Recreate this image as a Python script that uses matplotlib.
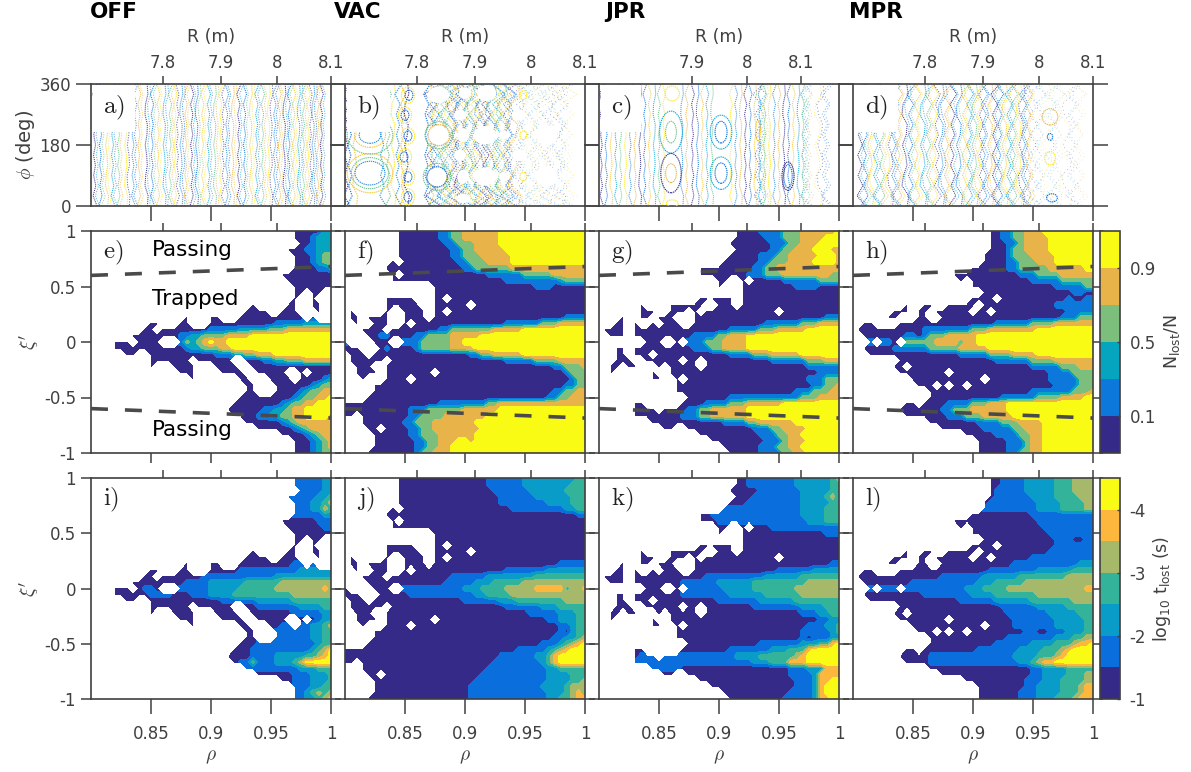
"""Orbit maps: Poincare plots, lost fraction and loss time for four coil settings."""
import numpy as np
import matplotlib
matplotlib.use("Agg")
import matplotlib.pyplot as plt
from matplotlib.patches import Ellipse

W, H = 1191, 772
GREY = "#404040"

COLUMN_TITLES = ["OFF", "VAC", "JPR", "MPR"]
PANEL_LABELS = ["a)", "b)", "c)", "d)", "e)", "f)", "g)", "h)", "i)", "j)", "k)", "l)"]

RHO = np.linspace(0.8, 1.0, 41)
XI = np.linspace(1.0, -1.0, 37)
RHO_TICKS = [0.85, 0.9, 0.95, 1.0]
RHO_LABELS = ["0.85", "0.9", "0.95", "1"]
XI_TICKS = [1, 0.5, 0, -0.5, -1]
XI_LABELS = ["1", "0.5", "0", "-0.5", "-1"]
PHI_TICKS = [0, 180, 360]

# R axis is not linear in rho, tick places read per column (JPR has other ones)
R_TICK_RHO = [
    [0.86, 0.9083, 0.955, 1.0],
    [0.86, 0.9083, 0.955, 1.0],
    [0.8775, 0.9233, 0.9683],
    [0.86, 0.9083, 0.955, 1.0],
]
R_TICK_LABELS = [
    ["7.8", "7.9", "8", "8.1"],
    ["7.8", "7.9", "8", "8.1"],
    ["7.9", "8", "8.1"],
    ["7.8", "7.9", "8", "8.1"],
]

SEP_RHO = [0.8, 1.0]
SEP_UPPER = [0.6, 0.68]
SEP_LOWER = [-0.6, -0.685]
REGION_NAMES = ["Passing", "Trapped", "Passing"]
REGION_XI = [0.83, 0.39, -0.79]

LOSS_COLORS = ["#352a87", "#0d78dc", "#05a5bf", "#7cbf7c", "#e8b44a", "#f9fb15"]
TIME_COLORS = ["#352a87", "#0a6fdd", "#0a9cc8", "#33b399", "#a6b96a", "#fdb73c", "#f9fb15"]
POINT_COLORS = ["#352a87", "#0f6fdc", "#f5c63a", "#12a5d8", "#6cc58a", "#fde725", "#2f8fe0", "#e8b44a"]

LOSS_TICK_PLACE = [0.5, 2.5, 4.5]
LOSS_TICK_LABELS = ["0.1", "0.5", "0.9"]
TIME_TICK_PLACE = [-0.5, 1.5, 3.5, 5.5]
TIME_TICK_LABELS = ["-1", "-2", "-3", "-4"]

# Map rows from xi=1 down to xi=-1. Each row is runs "level*count", '.' = no data,
# and is right aligned on rho=1. Levels are colour bands.
LOSS_E = [
    "0*5 2*2", "0*3 1 2*3", "0*2 1 2*3", "0*3 1*2 2*3", "0*3 1 2 3*2", "0*3 1 2 3*2",
    "0*4 1*2 2", "0*9", "0*8", "0*7",
    "0 .*5 0*2 . 0*2 .*2", "0 .*6 0 .*2 0 . 0*2", "0 .*5 0*2 .*2 0*2 .*2",
    "0*4 .*2 0*3 . 0 . 0 .*2", "0 .*3 0*2 .*3 0*11 . 0 .*3",
    "0*2 .*3 0*2 .*3 0*11 1*5 2*5", "0*2 . 0*8 1*5 2*5 3*3 4*8",
    "0*8 1*2 2*2 3*4 4*4 5*14", "0*3 . 0*4 .*3 1 3 2 3 4 5 4*2 5*18",
    "0*12 1 2*2 3*3 4*2 5*17", "0*2 .*2 0*11 1*3 2*2 3*2 4*3 5*10",
    "0*7 . 0*6 .*2 0*3 1*2 2*2 3*3 4*5", "0 .*3 0*4 .*3 0*4 .*2 0*14",
    "0*3 .*4 0*4 .*2 0*5 .*2 0 . 0*4", "0 .*7 0*2 .*3 0*4 . 0*4 1 2",
    "0*2 .*3 0*6 1 2 3*2", "0*2 .*3 0*4 1 2 3*2 4*2", "0*9 1 2 3*2 4*2 5",
    "0*8 1 2 3*2 4*2 5*3", "0*6 1*2 2*2 3 4*2 5*5", "0*4 1*2 2*2 3*2 4*2 5*4 4",
    "0*6 1 2 3 4*6", "0*6 1 2 3 4*4", "0*4 1 2 3 4*2", "0*3 1 2 3 4", "0*3 1 2 3 4",
    "0*3 1 2 3*2",
]
LOSS_F = [
    "0*7 1*2 3*2 4*6 5*15", "0*7 1*2 3*2 4*6 5*15", "0*8 1*2 3*3 4*4 5*15",
    "0*9 1*2 3*2 4*5 5*14", "0*9 1*2 3*3 4*5 5*13", "0 . 0*9 1*2 3*3 4*4 5*13",
    "0*13 1*2 3*6 4*13", "0*2 .*2 0 . 0*14 1*6 3*5 4*6", "0*19 1*9 2 3*4",
    "0*17 1*3 0*6", "0*26", "0*5 .*3 0*2 . 0*23", "0*6 .*2 0*6 . 0*19",
    "0 .*5 0 .*2 0*3 0 . 0*2 . 0*23", ". 0*2 . 0*3 0 .*2 0*4 . 0*22 1*4",
    "0 . 0 .*2 0*3 .*2 0 . 0*15 1*6 3*3 4*5", ".*4 0*4 . 0*8 1*2 3*7 4*5 5*11",
    "1 .*3 0*2 1*2 0 0*3 1*2 3*4 4*5 5*18", "1 .*4 0*3 .*2 1*3 3*3 3*2 4*2 5*21",
    "0*3 .*3 0 1 0*4 1 3*3 3*2 4*4 5*19", ". 0*3 . 0*16 1*2 3*2 4*5 5*11",
    ". 0*6 . 0*19 1*5 3*4 4*5", ".*2 0*3 .*2 0*28 1*2 3*3 4",
    ".*2 0*4 . 0*8 . 0*21 1 3*3", ".*3 0 .*3 0*4 . 0*26 1 3*2", ".*5 0*32 1*2 3*2",
    ".*5 0*30 1*2 3*2 4*2", ".*4 0*30 1*2 3*2 4*3", "0*16 1*8 3*2 4*15",
    "0*11 1*3 3*6 4*6 5*15", "0*2 . 0*8 1*2 3*4 4*7 5*17", ".*3 0*7 1*2 3*3 4*7 5*19",
    ".*4 0*2 . 0*4 1*2 3*2 4*8 5*18", ".*5 0*6 1*2 3*3 4*5 4 5*19",
    ".*5 0*7 1*2 3*2 4*3 5*2 4 5*19", ".*5 0*7 1*2 3*2 4*2 5*23", ".*4 0*8 1 3*2 4*3 5*23",
]
LOSS_G = [
    "0*4 1*4 3*3 4*6 5", "0*5 1*3 3*3 4*4 5*3", "0*7 1*3 3*2 4*3 5*4",
    "0 . 0*6 1*2 3*2 4*3 5*3 4*2", "0*5 1*3 3*2 4*5 5*3 4", "0*6 1*2 3*3 4*4 5*4 4",
    "0*9 1*2 3*2 4*11", "0*8 1*3 3*3 4*8 3*2", "0*2 .*2 0 . 0*5 1*6 3*4",
    "0 .*3 0*9 1*4 0*4", "0*17", "0*6 . 0*17", "0 .*4 0*6 .*2 0*3 . 0*6 0*11",
    "0*3 .*2 0*3 . 0 . 0*12 . 0*10", "0 .*2 0*2 . 0*3 .*3 0*22 1*3",
    "0*2 . 0 .*2 0 . 0*3 .*2 0*12 1*6 3*3 4*4", ". 0*4 . 0*16 1*5 3*3 4*5 5*6",
    ".*2 0*3 . 0*10 1*4 3*2 4*3 5*16", ".*8 0*3 .*2 0 . 1*3 3 3*2 4*4 5*16",
    ".*3 0*2 . 0*10 1*3 3*2 4*4 5*16", ".*3 0*2 . 0*3 . 0*12 1*4 3*3 4*5 5*7",
    ".*3 0*3 .*2 0*2 0*4 . 0*2 . 0*11 1*6 3*3 4*3", ".*2 0*2 . 0*2 .*3 0 . 0*5 . 0*17 1*6",
    ".*2 0 .*6 0 .*2 0*25 1*4", ".*9 0*3 . 0 . 0*20 1*3 3*3", ".*13 0*23 1*2 3*2 4",
    ".*13 0*20 1*3 3*3 4*2", ".*15 0*7 1*12 3*3 4*4", ".*7 0*2 .*6 0*4 1*4 3*3 4*6 5*10",
    ".*6 0*4 . 0*4 1*2 3*2 4*6 5*16", ".*6 0*8 1*3 3*2 4*6 5*16",
    ".*9 0*12 1*4 3*2 4*6 5*8", ".*11 0*2 .*2 0*11 1*3 3*2 4*4 5*6",
    ".*17 0*10 1*3 3*2 4*2 5*7", ".*19 0*9 1*3 3 4*3 5*6", ".*21 0*6 1*3 3*2 4*2 5*7",
    ".*22 0*5 1*4 3*2 4*2 5*6",
]
LOSS_H = [
    ".*23 0*2 1*2 3*2 4*3 5*9", ".*23 0*2 1*2 3*2 4*4 5*8", ".*23 0*3 1*2 3 4*4 5*8",
    ".*23 0*3 1 3*2 4*4 5*8", ".*22 0*4 1 3*3 4*4 5*7", ".*22 0*4 1*2 3*3 4*3 5*7",
    ".*20 0*6 1*2 3*5 4*6 5*2", ".*17 0*11 1*3 3*4 4*6", ".*18 0 . 0*10 1*5 3*6",
    ".*20 0*14 1*5 3*2", ".*22 0*15 1*2 0*2", ".*20 0*4 . 0*11 1 0*2 1*2",
    ".*9 0 .*2 0*2 .*2 0*5 . 0*12 1*7", ".*4 0 .*2 0*3 . 0*2 . 0*6 . 0*2 . 0*12 1*5",
    ".*6 0*2 .*3 0*2 .*2 0*20 1*3 3*3", ".*2 0*2 .*4 0*16 1*6 3*4 4*7",
    ". 0*11 1*8 3*3 4*8 5*10", ".*2 0*7 1*2 0 1 3*3 4*5 5*20",
    ".*3 1 . 1*2 0 . 3 3*2 3*2 4*4 3 4*2 5*20", ".*2 0*5 1*6 3*5 4*5 5*18",
    ".*3 0*15 1*5 3*4 4*4 5*10", ".*8 0*16 1*6 3*4 4*7",
    ". 0 .*2 0*2 . 0*2 . 0*20 1*5 3*3 4*3", ".*8 0*8 . 0*16 1*3 1 3*4",
    ".*10 0*12 . 0*10 1*5 3*3", ".*11 0*3 . 0 . 0*2 . 0*14 1*4 3*3",
    ".*13 0*17 1*7 3*3 4", ".*13 0*12 1*6 3*4 4*4 5*2", ".*9 0*2 . 0*4 1*4 3*3 4*3 5*15",
    ".*8 0*7 1*2 3*3 4*6 5*15", ".*9 0*7 1*3 3*3 4*5 5*14", ".*13 0*8 1*4 3*3 4*4 5*9",
    ".*15 0*7 1*5 3*2 4*3 5*9", ".*19 0*5 1*4 3*2 4*2 5*9", ".*21 0*5 1*3 3 4*2 5*9",
    ".*21 0*5 1*3 3 4*2 5*9", ".*21 0*5 1*2 3*2 4*2 5*9",
]
TIME_I = [
    "1*6 2*2", "1*6 2*2", "1*6 2*2", "1*5 2*2 3", "1*4 2*2 3 4", "1*4 2*2 4 3", "1*5 2*2",
    "1*3", "1*2", "0", "0", "0", "0", "0", "1*7", "1*10 2*6", "1*12 2*10",
    "1*4 2*6 3*6 4*9", "1*2 0*2 1*4 1*3 2*5 3*6 4*8 5 4", "1*4 0*3 1*3 2*4 3*10 4*7",
    "1*6 2*6 3*7", "1*7 2*4 3*2", "1*5 2*2", "1 2*2", "1*5 2*2 3 4", "1*6 2*2 3*2",
    "1*9 2*2 3*2", "1*10 2 3*2", "1*10 2 3 4 6", "1*4 2*5 3*2 4 5 6",
    "1*2 3 1*3 2*3 3 4 6*5", "1*9 2*3 3 3*2", "1*3 2*3 3", "1*3 2*3 3", "1*3 2*2 3*2",
    "1*2 2 3 4 3 4", "1*2 2*2 3 4 5",
]
TIME_J = [
    "1*6 2*7 2*2 3*2", "1*6 2*8 3*3", "1*6 2*6 3*4", "1*6 2*6 3*3", "1*8 2*4 3*3",
    "1*9 2*2 3*2", "1*2", "0", "0", "0", "0", "0", "0", "0", "1*5", "1*7 2*7",
    "1*6 2*8 3*9", "1*5 2*3 3*5 4*11", "1*10 2*3 3*4 4*4 4 5*5 3 4 4 5",
    "1*11 2*2 3*4 4*13", "1*6 2*3 3*8 4*4", "1*6 2*3 3*5", "1*5 2*3 3*2", "1*2 2*3 3*2",
    "1*2 2 3*2", "1 0 2 3*2", "1*2 2*2 3 4", "1*3 2 3 4 5 6", "1*5 2 3 4 5 6*3",
    "1*6 2*2 3 5 6*5", "1*8 2 3 5 6*5", "1*10 2*2 3*5", "1*11 2*4 3*3", "1*12 2*4 3*2 4",
    "1*12 2*4 3 4*3", "1*13 2*3 3 4 5 3", "1*13 2*2 3*2 4 5*2",
]
TIME_K = [
    "1*8 2*6 3 4", "1*8 2*6 3*2", "1*7 2*5 3*2", "1*8 2*4 3 4 2", "1*9 2*5 3*2",
    "1*13 2*4 3*3", "1*15 2*4 3*3", "1*15 2*3 3*3", "1*12", "1*3", "0", "0", "0", "0",
    "1*2", "1*6 2*5", "1*10 2*6 3*7", "1*6 2*6 3*9 4*6", "1*7 2*5 3*7 4*8",
    "1*8 2*6 3*6 4*7", "1*7 2*6 3*8", "1*8 2*4 3*3", "1*3 2*2 3*2", "1*2 2*2",
    "1*3 2*2 3", "1*5 2 3", "1 0 1*3 2*2", "1*7 2*3 3*2 5 6", "1*7 2*3 3*3 5 6*5",
    "1*16 2*4 3*6 4 5 6*6", "1*20 2*3 3*3 5*3 6*6", "1*7 0*18 1*3 2*3 5*3",
    "1*4 2 5*4", "1*3 2 5*2 6*2", "1*3 2 5 6*3", "1*4 2 5 6*3", "1*5 2 5*2 6*2",
]
TIME_L = [
    "1*4 2*5 3*3 4*4", "1*4 2*5 3*3 4*4", "1*5 2*5 3*3 4*4", "1*6 2*4 3*4 4*3",
    "1*8 2*4 3*4 4*2", "1*10 2*4 3*4 4*2", "1*11", "1*10", "1*9", "1*8", "1*3 0*2 1*2",
    "1*7", "1*8", "1*11", "1*11 2*3", "1*8 2*6 3*4", "1*7 2*6 3*8 4*5",
    "1*11 2*3 3*5 4*12", "1*17 2*3 3*4 4*11 4*2 5*2", "1*8 2*4 3*7 4*10",
    "1*6 2*6 3*7 4*4", "1*6 2*5 3*5", "1*7 2*5 3*3", "1*7 2*5 3*2", "1*7 2*5 3*2",
    "1*2 0*2 1*3 2*3 3*2", "1*8 2*3 3*2 4*2", "1*6 2*4 3*3 4 5*2 6",
    "1*7 2*4 3*3 4 5 6*4", "1*14 2*4 3*3 4 5 6*5", "1*15 2*2 3 4 5*2 6*7",
    "1*2 2*4 3*5", "1*2 2*4 3*3 4*2", "1*3 2*3 3*4 4*2", "1*2 2*4 3*3 4 5*2",
    "1*3 2*4 3*3 4 5*2", "1*3 2*3 3*3 4 5*3",
]

# Poincare plots: surface places in rho, sideways wiggle read per 30 deg of phi
PHI_NODES = [0, 30, 60, 90, 120, 150, 180, 210, 240, 270, 300, 330, 360]
WIGGLE_1 = [0.0020, -0.0012, 0.0010, -0.0008, 0.0007, -0.0009, 0.0008, -0.0007, 0.0009, -0.0008, 0.0012, -0.0015, 0.0020]
WIGGLE_2 = [-0.0015, 0.0012, -0.0006, 0.0010, -0.0008, 0.0005, -0.0010, 0.0008, -0.0006, 0.0009, -0.0010, 0.0016, -0.0012]
WIGGLE_3 = [0.0010, 0.0016, -0.0010, -0.0004, 0.0009, 0.0004, -0.0008, 0.0006, 0.0010, -0.0010, -0.0006, 0.0014, 0.0008]
PAIR_SHIFT = 0.0021

A_SURFACES = [0.803, 0.808, 0.813, 0.818, 0.823, 0.829, 0.835, 0.84, 0.846, 0.851, 0.856, 0.861,
              0.866, 0.87, 0.875, 0.879, 0.884, 0.888, 0.893, 0.898, 0.903, 0.908, 0.913, 0.918,
              0.923, 0.928, 0.933, 0.938, 0.943, 0.948, 0.953, 0.957, 0.961, 0.965, 0.969, 0.973,
              0.977, 0.981, 0.985, 0.989, 0.992]
B_SURFACES = [0.801, 0.804, 0.808, 0.831, 0.836, 0.84, 0.844, 0.848, 0.851, 0.868, 0.872]
B_CHAOS_DENSE = [0.872, 0.875, 0.878, 0.881, 0.884, 0.887, 0.89, 0.892, 0.895, 0.898, 0.9, 0.903,
                 0.906, 0.909, 0.912, 0.915, 0.918, 0.921, 0.924, 0.927, 0.93, 0.933, 0.936, 0.94]
B_CHAOS_SPARSE = [0.944, 0.948, 0.952, 0.956, 0.96, 0.964, 0.968, 0.972, 0.976, 0.98, 0.985]
C_SURFACES = [0.802, 0.806, 0.81, 0.814, 0.818, 0.822, 0.826, 0.83, 0.834, 0.838, 0.842, 0.846,
              0.85, 0.854, 0.869, 0.873, 0.878, 0.882, 0.886, 0.89, 0.894, 0.91, 0.914, 0.918,
              0.922, 0.926, 0.93, 0.934, 0.938, 0.942, 0.946, 0.95, 0.954, 0.958, 0.962, 0.966, 0.97]
C_CHAOS = [0.932, 0.935, 0.938, 0.971, 0.973, 0.982, 0.988]
D_SURFACES = [0.806, 0.81, 0.814, 0.819, 0.824, 0.829, 0.834, 0.838, 0.843, 0.848, 0.853, 0.858,
              0.863, 0.868, 0.873, 0.878, 0.883, 0.888, 0.893, 0.897, 0.901, 0.905, 0.909, 0.914,
              0.918, 0.922, 0.926, 0.93, 0.934, 0.938, 0.942, 0.946]
D_CHAOS = [0.95, 0.955, 0.96, 0.965, 0.97, 0.976, 0.982, 0.988]

# islands: rho, phi, half width, half height, colour index in POINT_COLORS
B_ISLANDS = [
    (0.8533, 327, 0.0033, 15, 1), (0.85, 268, 0.0033, 15, 1), (0.8525, 207, 0.0033, 15, 1),
    (0.8492, 145, 0.0033, 15, 1), (0.8525, 86, 0.0033, 15, 1), (0.8525, 27, 0.0033, 15, 1),
    (0.8525, 327, 0.0055, 24, 5), (0.85, 268, 0.0055, 24, 5), (0.8525, 207, 0.0055, 24, 5),
    (0.85, 145, 0.0055, 24, 5), (0.8525, 86, 0.0055, 24, 5), (0.8525, 27, 0.0055, 24, 5),
    (0.8783, 209, 0.0092, 31, 7), (0.8783, 209, 0.0115, 40, 4), (0.8767, 86, 0.0085, 30, 1),
    (0.8767, 86, 0.0115, 40, 4), (0.9486, 327, 0.0028, 13, 5), (0.9486, 209, 0.0028, 13, 5),
    (0.9486, 87, 0.0028, 13, 5), (0.8208, 97, 0.0125, 35, 6), (0.8208, 97, 0.0155, 46, 4),
    (0.8208, 97, 0.019, 58, 2), (0.8208, 209, 0.009, 24, 6), (0.8208, 209, 0.013, 36, 2),
    (0.8208, 209, 0.019, 56, 4),
]
B_HOLES = [
    (0.8778, 328, 0.009, 24), (0.9, 333, 0.005, 17), (0.918, 333, 0.008, 24), (0.8958, 268, 0.005, 16),
    (0.8986, 209, 0.005, 20), (0.9167, 209, 0.009, 27), (0.8958, 150, 0.005, 16), (0.8986, 87, 0.005, 20),
    (0.9167, 87, 0.009, 27), (0.8986, 22, 0.006, 14), (0.8778, 209, 0.0085, 29), (0.8767, 86, 0.0075, 28),
    (0.932, 209, 0.004, 14), (0.932, 87, 0.004, 14), (0.968, 209, 0.009, 30), (0.968, 87, 0.009, 30),
    (0.945, 268, 0.006, 16), (0.945, 150, 0.006, 16),
]
C_ISLANDS = [
    (0.86, 218, 0.0045, 32, 4), (0.86, 218, 0.0095, 62, 3), (0.86, 97, 0.0045, 28, 7),
    (0.86, 97, 0.0085, 58, 0), (0.861, 332, 0.006, 22, 5), (0.861, 8, 0.005, 10, 5),
    (0.9017, 218, 0.005, 32, 1), (0.9017, 218, 0.009, 50, 3), (0.9017, 97, 0.005, 30, 1),
    (0.9017, 97, 0.009, 48, 3), (0.9575, 88, 0.0035, 34, 1), (0.9575, 88, 0.005, 42, 0),
    (0.9325, 222, 0.002, 30, 2),
]
D_ISLANDS = [
    (0.9642, 141, 0.0045, 20, 5), (0.9642, 263, 0.0065, 24, 7), (0.9642, 204, 0.0022, 10, 1),
    (0.9658, 24, 0.0045, 12, 1),
]


def decode_map(rows, pad):
    grid = np.full((len(rows), len(RHO)), np.nan)
    for i, row in enumerate(rows):
        chars = ""
        for run in row.split():
            level, _, count = run.partition("*")
            chars += level * int(count or 1)
        chars = chars.rjust(len(RHO), pad)[-len(RHO):]
        grid[i] = [np.nan if c == "." else int(c) for c in chars]
    return grid


def px_axes(fig, x0, y0, x1, y1):
    return fig.add_axes([x0 / W, 1 - y1 / H, (x1 - x0) / W, (y1 - y0) / H])


def style_axes(ax, col, yticks, ylabels, ylen, xlen):
    ax.set_xlim(0.8, 1.0)
    ax.set_xticks(RHO_TICKS)
    ax.set_xticklabels([])
    ax.set_yticks(yticks)
    ax.set_yticklabels(ylabels if col == 0 else [])
    ax.tick_params(axis="y", left=True, right=True, length=ylen, width=1.1, color=GREY,
                   labelsize=12, labelcolor=GREY)
    ax.tick_params(axis="x", length=xlen, width=1.1, color=GREY, labelsize=12,
                   labelcolor=GREY, pad=8)
    for spine in ax.spines.values():
        spine.set_linewidth(1.2)
        spine.set_color(GREY)
    top = ax.secondary_xaxis("top")
    top.set_xticks(R_TICK_RHO[col])
    top.set_xticklabels([])
    top.tick_params(length=5.8, width=1.1, color=GREY, labelsize=12, labelcolor=GREY, pad=2.5)
    top.spines["top"].set_visible(False)
    return top


def draw_surfaces(ax, rhos, scale, lw=0.75, alpha=0.9, on=1.0, off=0.9, pairs=True):
    wiggles = [WIGGLE_1, WIGGLE_2, WIGGLE_3]
    n = len(POINT_COLORS)
    for i, rho in enumerate(rhos):
        x = rho + scale * np.array(wiggles[i % 3])
        ax.plot(x, PHI_NODES, color=POINT_COLORS[i % n], lw=lw, alpha=alpha,
                ls=(i % 3, (on, off)), zorder=2)
        if pairs:
            ax.plot(x + PAIR_SHIFT, PHI_NODES[::-1], color=POINT_COLORS[(i + 3) % n], lw=lw,
                    alpha=alpha * 0.8, ls=(i % 2, (on, off + 0.5)), zorder=2)


def draw_holes(ax, holes):
    for rho, phi, hw, hh in holes:
        ax.add_patch(Ellipse((rho, phi), 2 * hw, 2 * hh, fc="white", ec="none", zorder=3))


def draw_islands(ax, islands):
    for rho, phi, hw, hh, c in islands:
        ax.add_patch(Ellipse((rho, phi), 2 * hw, 2 * hh, fc="none", ec=POINT_COLORS[c],
                             lw=0.8, ls=(0, (1.2, 0.7)), zorder=4))


def panel_label(ax, text, box=False):
    kw = {"bbox": dict(fc="white", ec="none", pad=7)} if box else {}
    ax.text(0.05, 0.8 if box else 0.9, text, transform=ax.transAxes, fontsize=18, ha="left", va="center",
            math_fontfamily="cm", color="#222222", zorder=6, **kw)


fig = plt.figure(figsize=(W / 100, H / 100), dpi=100)

COL_X = [91, 345, 599, 853]
AX_W = 240
ROW_Y = [(84, 206), (231, 453), (478, 699)]

loss_maps = [decode_map(r, ".") for r in (LOSS_E, LOSS_F, LOSS_G, LOSS_H)]
time_maps = [decode_map(r, "0") for r in (TIME_I, TIME_J, TIME_K, TIME_L)]

for col, x0 in enumerate(COL_X):
    # top row, Poincare
    ax = px_axes(fig, x0, ROW_Y[0][0], x0 + AX_W, ROW_Y[0][1])
    top = style_axes(ax, col, PHI_TICKS, [str(t) for t in PHI_TICKS], 10.8, 10.8)
    ax.set_ylim(0, 360)
    top.set_xticklabels(R_TICK_LABELS[col])
    top.set_xlabel("R (m)", fontsize=12.5, color=GREY, labelpad=9)
    if col == 0:
        draw_surfaces(ax, A_SURFACES, 1.0)
        ax.set_ylabel(r"$\phi$ (deg)", fontsize=14, color=GREY, labelpad=2, math_fontfamily="cm")
    elif col == 1:
        draw_surfaces(ax, B_SURFACES, 1.6, pairs=False, lw=0.9)
        draw_surfaces(ax, B_CHAOS_DENSE, 4.0, lw=0.8, alpha=0.85, on=0.9, off=1.0)
        draw_surfaces(ax, B_CHAOS_SPARSE, 5.0, lw=0.6, alpha=0.55, on=1.0, off=3.5)
        draw_holes(ax, B_HOLES)
        draw_islands(ax, B_ISLANDS)
    elif col == 2:
        draw_surfaces(ax, C_SURFACES, 0.9, pairs=False)
        draw_surfaces(ax, C_CHAOS, 2.5, lw=0.7, alpha=0.7, on=1.0, off=2.0)
        draw_islands(ax, C_ISLANDS)
    else:
        draw_surfaces(ax, D_SURFACES, 2.2)
        draw_surfaces(ax, D_CHAOS, 4.0, lw=0.6, alpha=0.5, on=1.0, off=3.5)
        draw_islands(ax, D_ISLANDS)
    panel_label(ax, "$\\mathrm{" + PANEL_LABELS[col] + "}$", box=True)
    fig.text((x0 - 1 + [0, -10, 7, -3][col]) / W, 1 - 12 / H, COLUMN_TITLES[col], fontsize=15.5,
             fontweight="bold", va="center", color="black")

    # middle row, lost fraction
    ax = px_axes(fig, x0, ROW_Y[1][0], x0 + AX_W, ROW_Y[1][1])
    style_axes(ax, col, XI_TICKS, XI_LABELS, 7.2, 7.2)
    loss_cf = ax.contourf(RHO, XI, loss_maps[col], levels=np.arange(-0.5, 6, 1), colors=LOSS_COLORS)
    ax.set_ylim(-1, 1)
    for sep in (SEP_UPPER, SEP_LOWER):
        ax.plot(SEP_RHO, sep, color="#4a4a4a", lw=2.6, ls=(0, (4.7, 4.7)), clip_on=False, zorder=5)
    panel_label(ax, "$\\mathrm{" + PANEL_LABELS[col + 4] + "}$")
    if col == 0:
        ax.set_ylabel(r"$\xi'$", fontsize=14, color=GREY, labelpad=2, math_fontfamily="cm")
        for name, xi in zip(REGION_NAMES, REGION_XI):
            ax.text(0.851, xi, name, fontsize=15.5, va="center", color="black", zorder=6)

    # bottom row, loss time
    ax = px_axes(fig, x0, ROW_Y[2][0], x0 + AX_W, ROW_Y[2][1])
    style_axes(ax, col, XI_TICKS, XI_LABELS, 7.2, 10.8)
    times = time_maps[col]
    times[np.isnan(loss_maps[col])] = np.nan
    time_cf = ax.contourf(RHO, XI, times, levels=np.arange(-0.5, 7, 1), colors=TIME_COLORS)
    ax.set_ylim(-1, 1)
    ax.set_xticklabels(RHO_LABELS)
    ax.set_xlabel(r"$\rho$", fontsize=14, color=GREY, labelpad=3, math_fontfamily="cm")
    panel_label(ax, "$\\mathrm{" + PANEL_LABELS[col + 8] + "}$")
    if col == 0:
        ax.set_ylabel(r"$\xi'$", fontsize=14, color=GREY, labelpad=2, math_fontfamily="cm")

for cf, (y0, y1), ticks, labels in (
    (loss_cf, ROW_Y[1], LOSS_TICK_PLACE, LOSS_TICK_LABELS),
    (time_cf, ROW_Y[2], TIME_TICK_PLACE, TIME_TICK_LABELS),
):
    cax = px_axes(fig, 1100, y0, 1120, y1)
    cb = fig.colorbar(cf, cax=cax, ticks=ticks)
    cb.set_ticklabels(labels)
    cb.ax.tick_params(direction="in", length=2, width=1, color=GREY, labelsize=12, labelcolor=GREY, pad=7)
    cb.outline.set_edgecolor(GREY)
    cb.outline.set_linewidth(1.2)

fig.text(1172 / W, 1 - 342 / H, r"N$_{\mathrm{lost}}$/N", rotation=90, fontsize=12.5, color=GREY,
         ha="center", va="center")
fig.text(1162 / W, 1 - 589 / H, r"log$_{10}$ t$_{\mathrm{lost}}$ (s)", rotation=90, fontsize=12.5,
         color=GREY, ha="center", va="center")

fig.savefig("out.png", dpi=100)
